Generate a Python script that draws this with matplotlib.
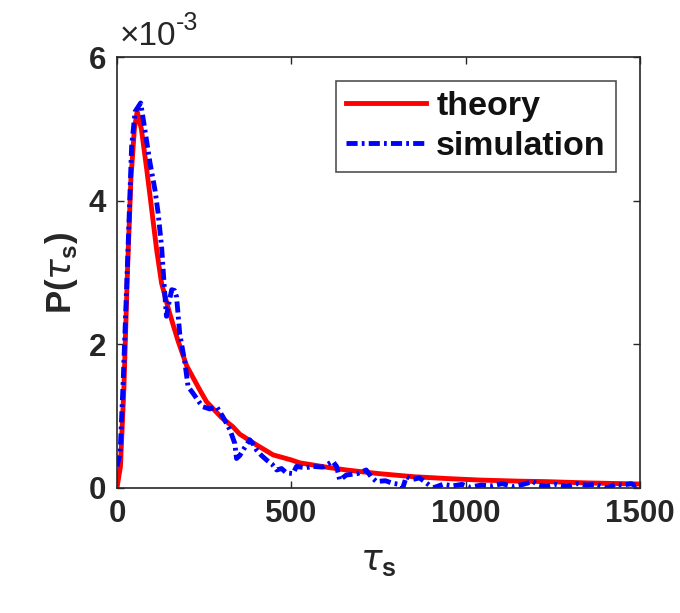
import matplotlib
matplotlib.use("Agg")
import matplotlib.pyplot as plt
from matplotlib.ticker import FuncFormatter

plt.rcParams['font.family'] = ['Liberation Sans', 'DejaVu Sans']
plt.rcParams['font.weight'] = 'bold'
plt.rcParams['mathtext.fontset'] = 'custom'
plt.rcParams['mathtext.it'] = 'DejaVu Sans:style=italic:weight=normal'
plt.rcParams['mathtext.bf'] = 'Liberation Sans:weight=bold'
plt.rcParams['mathtext.rm'] = 'Liberation Sans:weight=normal'
plt.rcParams['lines.scale_dashes'] = False

# theory curve, tau_s vs P (in units of 1e-3)
theory_t = [0, 10, 20, 30, 40, 50, 58, 70, 85, 95, 114, 128, 150, 175, 200, 238, 257,
            300, 333, 352, 400, 448, 500, 524, 600, 658, 750, 849, 950, 1040, 1150,
            1231, 1350, 1500]
theory_p = [0, 0.3, 1.4, 3.0, 4.3, 5.0, 5.24, 5.0, 4.45, 4.06, 3.31, 2.85, 2.45, 2.05,
            1.70, 1.36, 1.20, 0.98, 0.85, 0.75, 0.60, 0.46, 0.39, 0.35, 0.29, 0.25,
            0.20, 0.157, 0.13, 0.11, 0.095, 0.088, 0.07, 0.055]

# simulation histogram
sim_t = [0, 9, 18, 32, 42, 52, 68, 80, 95, 109, 118, 128, 137, 142, 150, 157, 165, 171,
         180, 195, 204, 218, 235, 247, 266, 286, 304, 324, 338, 343, 352, 362, 381, 392,
         400, 415, 429, 445, 458, 472, 486, 505, 515, 540, 562, 590, 619, 630, 639, 658,
         690, 715, 730, 744, 770, 791, 810, 820, 830, 850, 868, 890, 906, 935, 964, 990,
         1011, 1045, 1078, 1105, 1135, 1165, 1193, 1210, 1231, 1260, 1289, 1320, 1346,
         1375, 1404, 1430, 1451, 1475, 1489, 1500]
sim_p = [0.3, 0.48, 1.5, 3.36, 4.75, 5.24, 5.36, 4.99, 4.52, 4.15, 3.83, 3.36, 2.71, 2.39,
         2.6, 2.76, 2.75, 2.66, 2.15, 1.74, 1.41, 1.32, 1.2, 1.13, 1.1, 1.13, 0.99, 0.81,
         0.62, 0.41, 0.45, 0.53, 0.67, 0.6, 0.53, 0.45, 0.39, 0.33, 0.25, 0.27, 0.21, 0.2,
         0.3, 0.28, 0.3, 0.29, 0.37, 0.3, 0.11, 0.18, 0.2, 0.25, 0.15, 0.09, 0.1, 0.065,
         0.05, 0.0, 0.157, 0.12, 0.14, 0.06, 0.0, 0.05, 0.03, 0.05, 0.01, 0.04, 0.03, 0.06,
         0.02, 0.05, 0.09, 0.04, 0.02, 0.05, 0.02, 0.06, 0.04, 0.05, 0.0, 0.05, 0.04, 0.06,
         0.03, 0.05]

theory_y = [p * 1e-3 for p in theory_p]
sim_y = [p * 1e-3 for p in sim_p]

fig = plt.figure(figsize=(6.8, 6.13), dpi=100)
ax = fig.add_axes([0.172, 0.204, 0.769, 0.703])

ax.plot(theory_t, theory_y, color='#ff0000', lw=3.5, label='theory')
ax.plot(sim_t, sim_y, color='#0000ff', lw=3.5, linestyle=(0, (8, 3, 2, 3)), label='simulation')

ax.set_xlim(0, 1500)
ax.set_ylim(0, 6e-3)
ax.set_xticks([0, 500, 1000, 1500])
ax.set_yticks([0, 2e-3, 4e-3, 6e-3])
ax.yaxis.set_major_formatter(FuncFormatter(lambda v, _: f'{v*1e3:g}'))
ax.tick_params(direction='in', top=True, right=True, length=5, width=1,
               labelsize=22.5, color='#262626', labelcolor='#262626', pad=8)
for s in ax.spines.values():
    s.set_color('#262626')
    s.set_linewidth(1.2)

# exponent label like MATLAB
t1 = ax.text(0.005, 1.012, '×10', transform=ax.transAxes,
             fontsize=24, fontweight='normal', color='#262626', va='bottom', ha='left')
ax.annotate('-3', xy=(1, 0.55), xycoords=t1, va='bottom', ha='left',
            fontsize=18, fontweight='normal', color='#262626')

ax.set_xlabel(r'$\tau_{\mathbf{s}}$', fontsize=26, color='#262626', labelpad=10)
ax.set_ylabel(r'P($\tau_{\mathbf{s}}$)', fontsize=25, fontweight='bold',
              color='#262626', labelpad=6)

leg = ax.legend(loc='upper right', fontsize=24.5, frameon=True, fancybox=False,
                edgecolor='#262626', handlelength=2.35, borderaxespad=0.7,
                labelspacing=0.25, handletextpad=0.3, borderpad=0.3)
leg.get_frame().set_linewidth(1.2)
for t in leg.get_texts():
    t.set_color('#111111')

fig.savefig('out.png', dpi=100)
